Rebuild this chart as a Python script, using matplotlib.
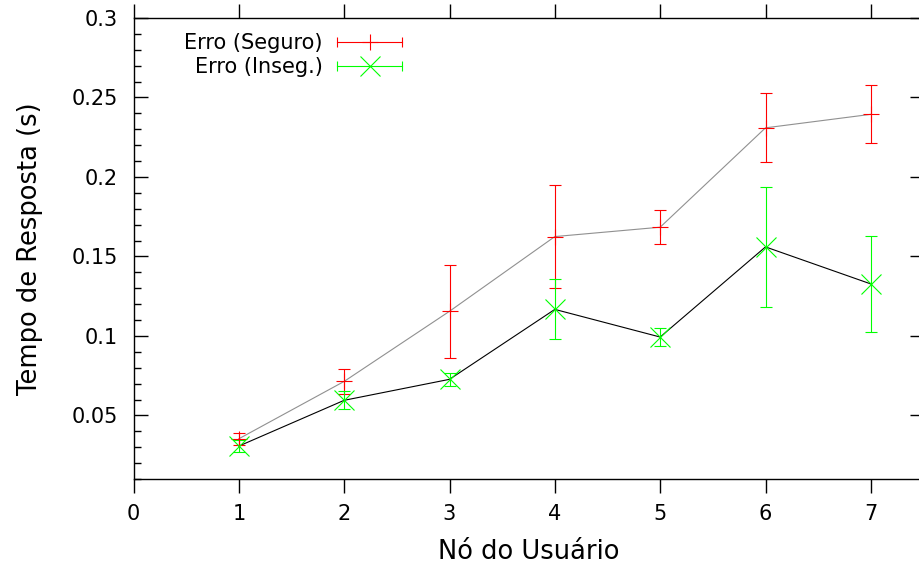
import numpy as np
import matplotlib
matplotlib.use("Agg")
import matplotlib.pyplot as plt
from matplotlib.lines import Line2D
from matplotlib.legend_handler import HandlerBase
from matplotlib.ticker import MultipleLocator

nodes = [1, 2, 3, 4, 5, 6, 7]
seguro_mean = [0.0353, 0.0714, 0.1155, 0.1625, 0.1684, 0.2309, 0.2394]
seguro_err = [0.0036, 0.0077, 0.0294, 0.0325, 0.0108, 0.0217, 0.0183]
inseg_mean = [0.0307, 0.0595, 0.0727, 0.1167, 0.0993, 0.1560, 0.1327]
inseg_err = [0.0040, 0.0056, 0.0042, 0.0188, 0.0055, 0.0376, 0.0302]

RED = "#ff0000"
GREEN = "#00ff00"
LW = 0.8


class ErrKey(HandlerBase):
    # gnuplot-style key sample: horizontal bar with end caps and the point in the middle
    def create_artists(self, legend, h, xd, yd, w, hgt, fs, trans):
        y = hgt / 2 - yd
        x0, x1 = -xd, w - xd
        col = h.get_color()
        bar = Line2D([x0, x1], [y, y], color=col, lw=LW)
        caps = Line2D([x0, x1], [y, y], ls="none", marker="|", ms=7.5,
                      mew=LW, color=col)
        pt = Line2D([(x0 + x1) / 2], [y], ls="none", marker=h.get_marker(),
                    ms=h.get_markersize(), mew=LW, color=col)
        for a in (bar, caps, pt):
            a.set_transform(trans)
        return [bar, caps, pt]


fig = plt.figure(figsize=(9.19, 5.65), dpi=100)
ax = fig.add_axes([133.5 / 919, 86 / 565, 790 / 919, 461 / 565])

ax.plot(nodes, seguro_mean, color="#909090", lw=LW, zorder=2)
ax.plot(nodes, inseg_mean, color="black", lw=LW, zorder=2)
ax.errorbar(nodes, seguro_mean, yerr=seguro_err, fmt="+", color=RED, ms=12,
            mew=LW, elinewidth=LW, capsize=4.2, capthick=LW, zorder=3)
ax.errorbar(nodes, inseg_mean, yerr=inseg_err, fmt="x", color=GREEN, ms=14,
            mew=LW, elinewidth=LW, capsize=4.2, capthick=LW, zorder=3)

ax.set_xlim(0, 7.5)
ax.set_ylim(0.01, 0.3)
ax.xaxis.set_major_locator(MultipleLocator(1))
ax.yaxis.set_major_locator(MultipleLocator(0.05))
ax.yaxis.set_minor_locator(MultipleLocator(0.01))
ax.yaxis.set_major_formatter(plt.FuncFormatter(lambda v, p: f"{v:g}"))

ax.tick_params(axis="x", which="major", direction="out", length=10, width=1,
               top=True, labelsize=15, pad=8)
ax.tick_params(axis="y", which="major", direction="in", length=10, width=1,
               right=True, labelsize=15, pad=11.5)
ax.tick_params(axis="y", which="minor", direction="in", length=5, width=1,
               left=True, right=False)
for s in ax.spines.values():
    s.set_linewidth(1)

ax.set_xlabel("Nó do Usuário", fontsize=18.5, labelpad=11)
ax.set_ylabel("Tempo de Resposta (s)", fontsize=18.5, labelpad=20.5)

h1 = Line2D([], [], color=RED, marker="+", ms=12)
h2 = Line2D([], [], color=GREEN, marker="x", ms=14)
fig.legend([h1, h2], ["Erro (Seguro)", "Erro (Inseg.)"],
           handler_map={Line2D: ErrKey()}, markerfirst=False, frameon=False,
           loc="upper right", bbox_to_anchor=(402 / 919, 1 - 33 / 565),
           bbox_transform=fig.transFigure, fontsize=15, handlelength=3.1,
           handletextpad=0.7, labelspacing=0.2, borderpad=0, borderaxespad=0)

fig.savefig("out.png", dpi=100)
